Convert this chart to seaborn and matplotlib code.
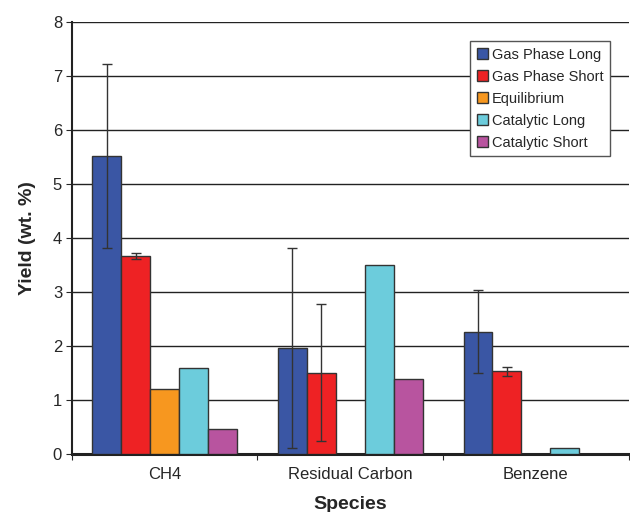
import matplotlib
matplotlib.use("Agg")
import matplotlib.pyplot as plt
import seaborn as sns
import pandas as pd
import numpy as np

species = ["CH4", "Residual Carbon", "Benzene"]
series = ["Gas Phase Long", "Gas Phase Short", "Equilibrium", "Catalytic Long", "Catalytic Short"]
gas_long = [5.52, 1.96, 2.27]
gas_short = [3.67, 1.51, 1.53]
equilibrium = [1.20, 0.0, 0.0]
cat_long = [1.59, 3.51, 0.12]
cat_short = [0.47, 1.39, 0.01]
gas_long_err = [1.70, 1.85, 0.77]
gas_short_err = [0.06, 1.27, 0.09]
yticks = [0, 1, 2, 3, 4, 5, 6, 7, 8]

colors = ["#3A56A4", "#EE2224", "#F7971F", "#6CCCDC", "#B8549F"]

values = [gas_long, gas_short, equilibrium, cat_long, cat_short]
rows = []
for s, vals in zip(series, values):
    for sp, v in zip(species, vals):
        rows.append({"Species": sp, "Series": s, "Yield": v})
df = pd.DataFrame(rows)

sns.set_style("white")
plt.rcParams["font.family"] = ["Liberation Sans", "DejaVu Sans"]

fig = plt.figure(figsize=(6.3, 5.12), dpi=100)
ax = fig.add_axes([0.114, 0.113, 0.884, 0.844])

sns.barplot(data=df, x="Species", y="Yield", hue="Series", hue_order=series,
            order=species, palette=colors, saturation=1, width=0.78, gap=0,
            errorbar=None, edgecolor="#333333", linewidth=1.0, ax=ax, zorder=3)

errs = {0: gas_long_err, 1: gas_short_err}
for i, cont in enumerate(ax.containers):
    if i in errs:
        for bar, e in zip(cont.patches, errs[i]):
            ax.errorbar(bar.get_x() + bar.get_width() / 2, bar.get_height(), yerr=e,
                        fmt="none", ecolor="#333333", elinewidth=1.0, capsize=3.5,
                        capthick=1.0, zorder=4)

ax.set_ylim(0, 8)
ax.set_xlim(-0.5, 2.5)
ax.set_yticks(yticks)
ax.set_yticklabels([str(t) for t in yticks], fontsize=12)
ax.yaxis.grid(True, color="#222222", linewidth=1.0, zorder=0)
ax.set_axisbelow(True)
ax.tick_params(axis="y", which="major", length=4, width=0.8, direction="out", left=True, pad=3)
ax.set_xticks([0, 1, 2])
ax.set_xticklabels(species, fontsize=12)
ax.set_xticks([-0.5, 0.5, 1.5, 2.5], minor=True)
ax.tick_params(axis="x", which="major", length=0, pad=9)
ax.tick_params(axis="x", which="minor", length=4, width=0.8, direction="out", bottom=True)

for side in ["top", "right"]:
    ax.spines[side].set_visible(False)
ax.spines["left"].set_color("#222222")
ax.spines["left"].set_linewidth(1.5)
ax.spines["bottom"].set_color("#222222")
ax.spines["bottom"].set_linewidth(2.2)

ax.set_xlabel("Species", fontsize=14, fontweight="bold", labelpad=10)
ax.set_ylabel("Yield (wt. %)", fontsize=14, fontweight="bold", labelpad=12)

leg = ax.legend(loc="upper right", bbox_to_anchor=(0.966, 0.956), fontsize=10.5,
                frameon=True, fancybox=False, edgecolor="#555555", framealpha=1,
                handlelength=0.75, handleheight=0.75, handletextpad=0.25,
                labelspacing=0.55, borderpad=0.45, borderaxespad=0)
leg.get_frame().set_linewidth(1.0)

fig.savefig("out.png", dpi=100)
